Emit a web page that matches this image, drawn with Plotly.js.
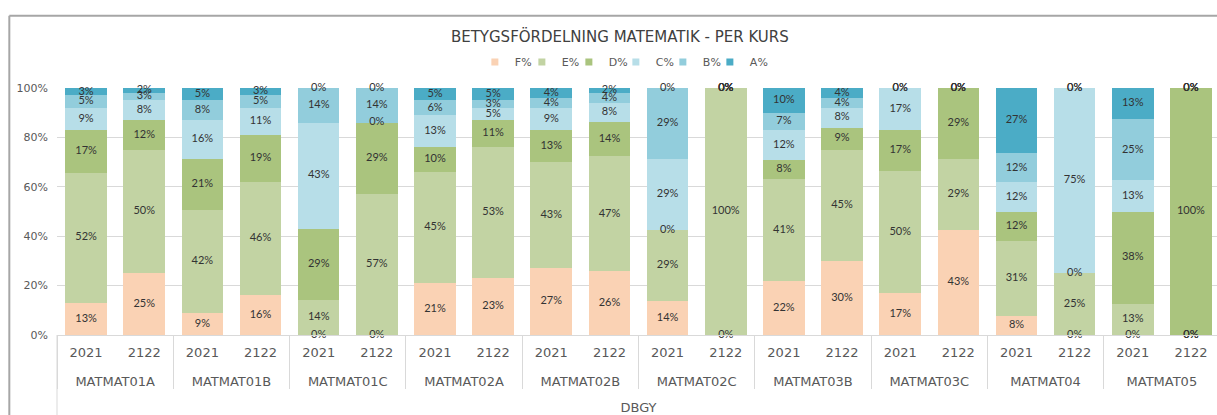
<!DOCTYPE html>
<html><head><meta charset="utf-8">
<script src="https://cdn.plot.ly/plotly-3.0.1.min.js"></script>
<style>html,body{margin:0;padding:0;overflow:hidden;background:#fff}</style>
</head><body>
<div id="chart" style="width:1225px;height:415px"></div>
<script>
// ---- data ----
const courses = ['MATMAT01A','MATMAT01B','MATMAT01C','MATMAT02A','MATMAT02B','MATMAT02C','MATMAT03B','MATMAT03C','MATMAT04','MATMAT05'];
const years = ['2021','2122'];
const gradeNames = ['F%','E%','D%','C%','B%','A%'];
const yTicks = [0, 20, 40, 60, 80, 100];
const F = [13,25, 9,16, 0, 0,21,23,27,26,14,  0,22,30,17,43, 8, 0, 0,  0];
const E = [52,50,42,46,14,57,45,53,43,47,29,100,41,45,50,29,31,25,13,  0];
const D = [17,12,21,19,29,29,10,11,13,14, 0,  0, 8, 9,17,29,12, 0,38,100];
const C = [ 9, 8,16,11,43, 0,13, 5, 9, 8,29,  0,12, 8,17, 0,12,75,13,  0];
const B = [ 5, 3, 8, 5,14,14, 6, 3, 4, 4,29,  0, 7, 4, 0, 0,12, 0,25,  0];
const A = [ 3, 2, 5, 3, 0, 0, 5, 5, 4, 2, 0,  0,10, 4, 0, 0,27, 0,13,  0];
const colors = ['#FAD2B4','#C2D3A3','#AAC47E','#B7DEE8','#92CDDC','#4BACC6'];

// ---- build ----
const series = [F,E,D,C,B,A];
const outer = [], inner = [];
courses.forEach(c => years.forEach(y => { outer.push(c); inner.push(y + '<br> '); }));
const xcat = [outer, inner];
const totals = outer.map((_, i) => series.reduce((s, arr) => s + arr[i], 0));

const traces = [];
series.forEach((vals, k) => {
  traces.push({
    type: 'bar', x: xcat, y: vals, name: gradeNames[k],
    marker: {color: colors[k], line: {width: 0}},
    showlegend: false, hoverinfo: 'skip'
  });
});
// legend entries (small squares)
series.forEach((vals, k) => {
  traces.push({
    type: 'scatter', mode: 'markers', x: [[outer[0]], [inner[0]]], y: [null], name: gradeNames[k],
    marker: {symbol: 'square', size: 7, color: colors[k]},
    legendwidth: k === series.length - 1 ? 24 : 2,
    showlegend: true, hoverinfo: 'skip'
  });
});
// data labels centred in each segment
const cum = totals.map(() => 0);
series.forEach((vals, k) => {
  const ys = vals.map((v, i) => { const m = (cum[i] + v / 2) / totals[i] * 100; cum[i] += v; return m; });
  traces.push({
    type: 'scatter', mode: 'text', x: xcat, y: ys,
    text: vals.map(v => v + '%'), textposition: 'middle center',
    textfont: {family: 'Lato, sans-serif', size: 11, color: '#333333'},
    showlegend: false, hoverinfo: 'skip', cliponaxis: false
  });
});

const axisFont = 'DejaVu Sans, sans-serif';
const layout = {
  width: 1225, height: 415,
  margin: {l: 57, r: 5, t: 88, b: 80},
  paper_bgcolor: '#ffffff', plot_bgcolor: '#ffffff',
  barmode: 'stack', barnorm: 'percent', bargap: 0.285,
  title: {text: 'BETYGSFÖRDELNING MATEMATIK - PER KURS', x: 0.506, xref: 'container',
          y: 1 - 37/415, yref: 'container', yanchor: 'middle', xanchor: 'center',
          font: {family: axisFont, size: 15, color: '#404040'}},
  legend: {orientation: 'h', x: 0.49, xanchor: 'center', y: 1.105, yanchor: 'middle',
           font: {family: axisFont, size: 11, color: '#595959'}, itemwidth: 30,
           traceorder: 'normal'},
  xaxis: {type: 'multicategory', range: [-0.5, 19.5], autorange: false,
          showdividers: true, dividercolor: '#D9D9D9', dividerwidth: 1,
          showline: true, linecolor: '#D9D9D9', linewidth: 1,
          ticks: '', ticklabelstandoff: 5, showgrid: false,
          tickfont: {family: axisFont, size: 13, color: '#595959'},
          title: {text: 'DBGY', font: {family: axisFont, size: 13, color: '#595959'}, standoff: 15}},
  yaxis: {range: [0, 100], tickmode: 'array', tickvals: yTicks, ticktext: yTicks.map(v => v + '%'),
          showgrid: true, gridcolor: '#D9D9D9', gridwidth: 1, zeroline: false, showline: false,
          ticks: '', ticklabelstandoff: 8,
          tickfont: {family: axisFont, size: 11, color: '#595959'}},
  shapes: [
    {type: 'line', xref: 'paper', yref: 'paper', x0: -0.041, x1: 1.05, y0: 1.2923, y1: 1.2923,
     line: {color: '#A6A6A6', width: 2}},
    {type: 'line', xref: 'paper', yref: 'paper', x0: -0.041, x1: -0.041, y0: 1.2923, y1: -0.35,
     line: {color: '#A6A6A6', width: 2}},
    {type: 'line', xref: 'paper', yref: 'paper', x0: 0, x1: 0, y0: 0, y1: -0.35,
     line: {color: '#D9D9D9', width: 1}}
  ]
};
Plotly.newPlot('chart', traces, layout, {displayModeBar: false, staticPlot: true});
</script>
</body></html>
